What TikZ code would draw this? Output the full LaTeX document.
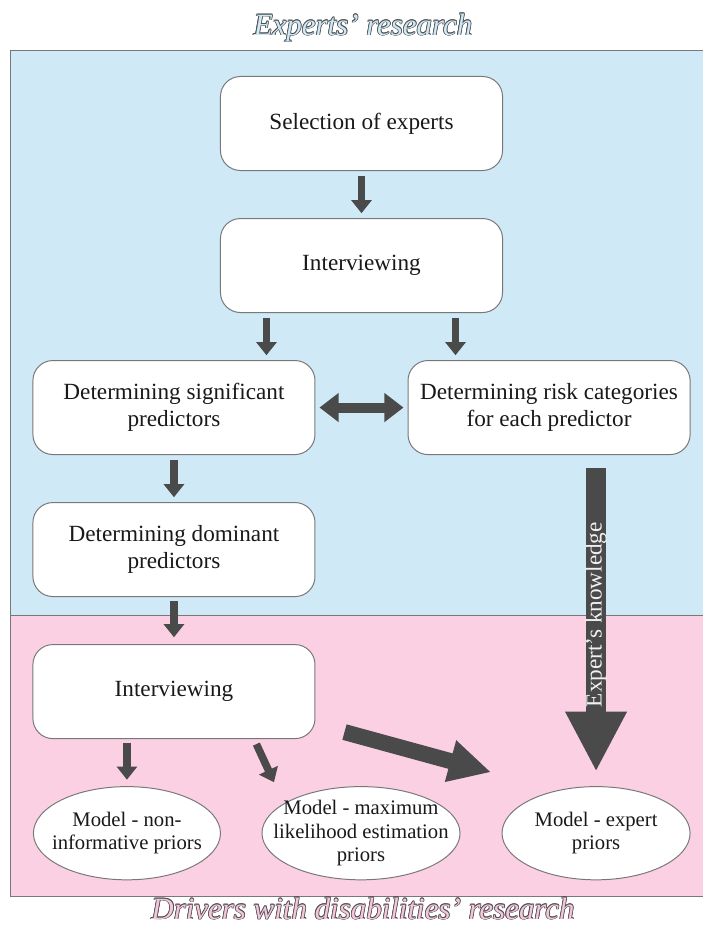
\documentclass[tikz,border=0pt]{standalone}
\usepackage{fontspec}
\setmainfont{Liberation Serif}
\usetikzlibrary{arrows.meta,calc,positioning,shapes.geometric}
\definecolor{bakblaa}{RGB}{207,233,246}
\definecolor{bakrosa}{RGB}{252,208,227}
\definecolor{rammegraa}{RGB}{120,120,120}
\definecolor{pilgraa}{RGB}{74,74,74}
\definecolor{tittelblaa}{RGB}{205,232,247}
\definecolor{tittelrosa}{RGB}{246,198,220}
\definecolor{konturgraa}{RGB}{80,80,80}
\tikzset{
    boks/.style={
           rectangle, rounded corners=0.5cm,
           draw=rammegraa, line width=0.7pt, fill=white,
           minimum width=7.05cm, minimum height=2.35cm,
           inner sep=2pt, align=center, text=black!90,
           font=\fontsize{16.5}{19.5}\selectfont},
    modell/.style={
           ellipse,
           draw=rammegraa, line width=0.7pt, fill=white,
           minimum height=2.33cm, inner sep=-0.6cm,
           align=center, text=black!90,
           font=\fontsize{14.7}{16.5}\selectfont},
    pil/.style={
           -{Triangle[length=0.33cm,width=0.5cm]},
           line width=0.19cm, draw=pilgraa,
           shorten <=0.12cm, shorten >=0.12cm},
    dobbelpil/.style={
           {Triangle[length=0.48cm,width=0.7cm]}-{Triangle[length=0.48cm,width=0.7cm]},
           line width=0.25cm, draw=pilgraa,
           shorten <=0.1cm, shorten >=0.1cm},
    storpil/.style={
           -{Triangle[length=1.5cm,width=1.43cm]},
           line width=0.52cm, draw=pilgraa},
    skraapil/.style={
           -{Triangle[length=1.05cm,width=1cm]},
           line width=0.4cm, draw=pilgraa},
    tittel/.style={
           anchor=base, inner sep=0pt,
           font=\fontsize{22}{26}\selectfont\itshape}
}

\begin{document}
\begin{tikzpicture}[x=0.025cm, y=-0.025cm, node distance=1.175cm]
    \useasboundingbox (0,0) rectangle (703,928);
    % bakgrunn
    \fill[bakblaa] (10,50) rectangle (703,615);
    \fill[bakrosa] (10,615) rectangle (703,896);
    \draw[rammegraa, line width=0.7pt] (703,50) -- (10,50) -- (10,896) -- (703,896)
        (10,615) -- (703,615);

    % titler med kontur
    \coordinate (t1) at (363,35);
    \coordinate (t2) at (363,919);
    \foreach \a in {0,45,...,315} {
        \node[tittel, text=konturgraa] (k1-\a) at ([shift={(\a:0.55pt)}]t1) {Experts’ research};
        \node[tittel, text=konturgraa] (k2-\a) at ([shift={(\a:0.55pt)}]t2) {Drivers with disabilities’ research};
    }
    \node[tittel, text=tittelblaa] (tittel1) at (t1) {Experts’ research};
    \node[tittel, text=tittelrosa] (tittel2) at (t2) {Drivers with disabilities’ research};

    % eksperter
    \node[boks] (sel) at (361.5,123.5) {Selection of experts};
    \node[boks, below=of sel] (int1) {Interviewing};
    \node[boks, below=of int1, shift={(-4.6875cm,0)}] (sig) {Determining significant\\predictors};
    \node[boks, below=of int1, shift={(4.6875cm,0)}] (risk) {Determining risk categories\\for each predictor};
    \node[boks, below=of sig] (dom) {Determining dominant\\predictors};

    % sjaafoerer
    \node[boks, below=of dom] (int2) {Interviewing};
    \node[modell, minimum width=4.675cm, below=of int2, shift={(-1.175cm,0)}] (m1) {Model - non-\\informative priors};
    \node[modell, minimum width=4.95cm, below=of int2, shift={(4.675cm,0)}] (m2) {Model - maximum\\likelihood estimation\\priors};
    \node[modell, minimum width=4.7cm, below=of int2, shift={(10.55cm,0)}] (m3) {Model - expert\\priors};

    \draw[pil] (sel) -- (int1);
    \draw[pil] ([xshift=-2.375cm]int1.south) -- ([xshift=-2.375cm]int1.south |- sig.north);
    \draw[pil] ([xshift=2.35cm]int1.south) -- ([xshift=2.35cm]int1.south |- risk.north);
    \draw[dobbelpil] (sig) -- (risk);
    \draw[pil] (sig) -- (dom);
    \draw[pil, shorten <=0.1cm, shorten >=0.17cm] (dom) -- (int2);
    \draw[pil, shorten <=0.1cm, shorten >=0.16cm] (int2.south -| m1.north) -- (m1.north);
    \draw[pil, shorten <=0pt, shorten >=0pt] ([shift={(2.06cm,-0.125cm)}]int2.south)
        -- ([shift={(-2.175cm,1.275cm)}]m2.center);
    \draw[skraapil] ([shift={(0.725cm,-1.0125cm)}]int2.east)
        -- ([shift={(-2.625cm,1.525cm)}]m3.center);
    \draw[storpil, shorten <=0.325cm, shorten >=0.36cm] (risk.south -| m3.north) -- (m3.north)
        node[midway, yshift=0.15cm, rotate=90, text=gray!12, inner sep=0pt,
             font=\fontsize{16.5}{19.5}\selectfont] (kunnskap) {Expert’s knowledge};
\end{tikzpicture}
\end{document}
